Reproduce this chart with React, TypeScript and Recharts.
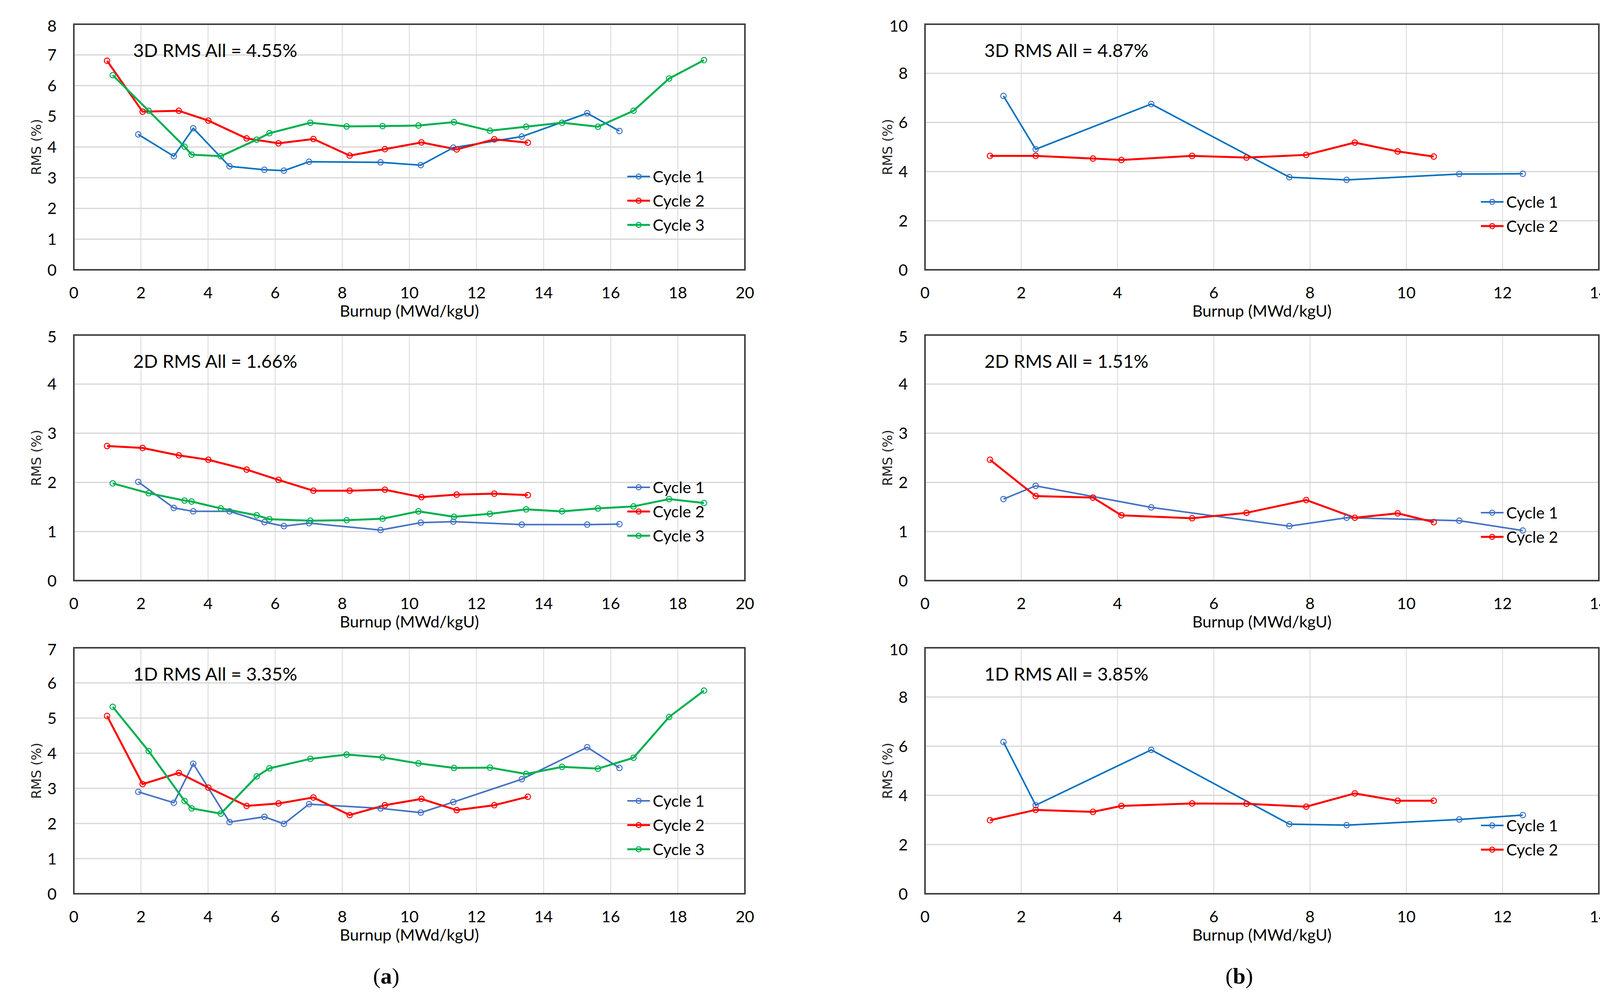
import React from "react";
import {
  LineChart,
  Line,
  XAxis,
  YAxis,
  CartesianGrid,
  ReferenceArea,
} from "recharts";

// burnup positions (MWd/kgU)
const burnupA1 = [1.92, 2.98, 3.56, 4.64, 5.68, 6.26, 7.01, 9.14, 10.34, 11.31, 13.35, 15.3, 16.26];
const burnupA2 = [0.99, 2.05, 3.13, 4.01, 5.15, 6.1, 7.14, 8.22, 9.27, 10.36, 11.41, 12.53, 13.53];
const burnupA3 = [1.16, 2.23, 3.3, 3.51, 4.38, 5.45, 5.83, 7.05, 8.13, 9.2, 10.27, 11.33, 12.4, 13.48, 14.55, 15.62, 16.68, 17.74, 18.78];
const burnupB1 = [1.63, 2.3, 4.7, 7.57, 8.76, 11.1, 12.42];
const burnupB2 = [1.35, 2.3, 3.49, 4.08, 5.55, 6.68, 7.92, 8.93, 9.82, 10.57];

// RMS (%) values, (a) plant
const rms3dA1 = [4.41, 3.7, 4.61, 3.37, 3.26, 3.23, 3.52, 3.5, 3.41, 3.98, 4.34, 5.1, 4.52];
const rms3dA2 = [6.81, 5.15, 5.18, 4.86, 4.28, 4.12, 4.26, 3.72, 3.93, 4.15, 3.92, 4.25, 4.14];
const rms3dA3 = [6.34, 5.18, 4.01, 3.75, 3.7, 4.24, 4.45, 4.79, 4.67, 4.68, 4.7, 4.81, 4.53, 4.66, 4.79, 4.66, 5.18, 6.23, 6.83];
const rms2dA1 = [2.01, 1.48, 1.41, 1.41, 1.19, 1.11, 1.17, 1.03, 1.18, 1.2, 1.14, 1.14, 1.15];
const rms2dA2 = [2.74, 2.7, 2.55, 2.46, 2.26, 2.05, 1.83, 1.83, 1.85, 1.7, 1.75, 1.77, 1.74];
const rms2dA3 = [1.98, 1.78, 1.63, 1.61, 1.47, 1.33, 1.25, 1.22, 1.23, 1.26, 1.41, 1.3, 1.36, 1.45, 1.41, 1.47, 1.51, 1.66, 1.58];
const rms1dA1 = [2.9, 2.59, 3.7, 2.04, 2.19, 1.99, 2.55, 2.43, 2.31, 2.61, 3.26, 4.17, 3.58];
const rms1dA2 = [5.06, 3.12, 3.44, 3.02, 2.5, 2.57, 2.74, 2.24, 2.52, 2.7, 2.38, 2.52, 2.76];
const rms1dA3 = [5.32, 4.06, 2.64, 2.43, 2.28, 3.34, 3.57, 3.84, 3.96, 3.88, 3.71, 3.58, 3.59, 3.41, 3.61, 3.56, 3.87, 5.03, 5.78];

// RMS (%) values, (b) plant
const rms3dB1 = [7.08, 4.91, 6.75, 3.77, 3.66, 3.9, 3.91];
const rms3dB2 = [4.64, 4.64, 4.53, 4.47, 4.64, 4.57, 4.68, 5.18, 4.82, 4.61];
const rms2dB1 = [1.66, 1.93, 1.49, 1.11, 1.28, 1.22, 1.02];
const rms2dB2 = [2.46, 1.72, 1.69, 1.33, 1.27, 1.38, 1.64, 1.28, 1.37, 1.19];
const rms1dB1 = [6.17, 3.6, 5.85, 2.83, 2.79, 3.02, 3.2];
const rms1dB2 = [2.99, 3.41, 3.33, 3.57, 3.67, 3.66, 3.54, 4.08, 3.78, 3.78];

const xTicksA = [0, 2, 4, 6, 8, 10, 12, 14, 16, 18, 20];
const xTicksB = [0, 2, 4, 6, 8, 10, 12, 14];
const yTicks8 = [0, 1, 2, 3, 4, 5, 6, 7, 8];
const yTicks7 = [0, 1, 2, 3, 4, 5, 6, 7];
const yTicks5 = [0, 1, 2, 3, 4, 5];
const yTicks10 = [0, 2, 4, 6, 8, 10];

const FONT = "Lato, 'Liberation Sans', sans-serif";
const BLUE_DARK = "#0070C0";
const BLUE = "#4472C4";
const RED = "#FF0000";
const GREEN = "#00B050";

interface Series {
  name: string;
  x: number[];
  y: number[];
  color: string;
  marker: string;
  width: number;
}

function toPoints(x: number[], y: number[]) {
  return x.map((v, i) => ({ x: v, y: y[i] }));
}

const AXIS_W = 190; // room left of the plot for ticks + title
const AXIS_H = 140; // room under the plot
const PAD_TOP = 20;
const PAD_RIGHT = 44;

function LegendBox({ series }: { series: Series[] }) {
  return (
    <div style={{ fontFamily: FONT, fontSize: 41, color: "#000", lineHeight: "44px" }}>
      {series.map((s) => (
        <div key={s.name} style={{ display: "flex", alignItems: "center", height: 62 }}>
          <svg width={58} height={20} style={{ marginRight: 7 }}>
            <line x1={0} y1={10} x2={58} y2={10} stroke={s.color} strokeWidth={s.width} />
            <circle cx={29} cy={10} r={6.5} fill="none" stroke={s.marker} strokeWidth={2.5} />
          </svg>
          <span>{s.name}</span>
        </div>
      ))}
    </div>
  );
}

interface PanelProps {
  left: number;
  top: number;
  right: number;
  bottom: number;
  xMax: number;
  xTicks: number[];
  yMax: number;
  yTicks: number[];
  note: string;
  series: Series[];
  legendDx: number;
  legendDy: number;
}

function Panel({ left, top, right, bottom, xMax, xTicks, yMax, yTicks, note, series, legendDx, legendDy }: PanelProps) {
  const plotW = right - left;
  const plotH = bottom - top;
  const width = plotW + AXIS_W + PAD_RIGHT;
  const height = plotH + PAD_TOP + AXIS_H;
  const tickStyle = { fontSize: 41, fill: "#000", fontFamily: FONT };
  return (
    <div style={{ position: "absolute", left: left - AXIS_W, top: top - PAD_TOP, width, height }}>
      <LineChart
        width={width}
        height={height}
        margin={{ top: PAD_TOP, right: PAD_RIGHT, left: AXIS_W - 150, bottom: 0 }}
      >
        <CartesianGrid horizontal={false} stroke="#dedede" strokeWidth={2.5} />
        <CartesianGrid vertical={false} stroke="#d6d6d6" strokeWidth={3} />
        <XAxis
          type="number"
          dataKey="x"
          domain={[0, xMax]}
          ticks={xTicks}
          height={AXIS_H}
          axisLine={false}
          tickLine={false}
          tickSize={0}
          tickMargin={44}
          tick={tickStyle}
          label={{
            value: "Burnup (MWd/kgU)",
            position: "insideBottom",
            offset: 20,
            style: { fontSize: 41, fill: "#000", fontFamily: FONT },
          }}
        />
        <YAxis
          type="number"
          domain={[0, yMax]}
          ticks={yTicks}
          width={150}
          axisLine={false}
          tickLine={false}
          tickSize={0}
          tickMargin={44}
          tick={tickStyle}
          label={{
            value: "RMS (%)",
            angle: -90,
            position: "insideLeft",
            offset: 54,
            style: { fontSize: 34, fill: "#222", fontFamily: "'DejaVu Sans', sans-serif", textAnchor: "middle" },
          }}
        />
        <ReferenceArea x1={0} x2={xMax} y1={0} y2={yMax} fill="none" stroke="#404040" strokeWidth={4} />
        {series.map((s) => (
          <Line
            key={s.name}
            name={s.name}
            data={toPoints(s.x, s.y)}
            dataKey="y"
            type="linear"
            stroke={s.color}
            strokeWidth={s.width}
            dot={{ r: 7, fill: "none", stroke: s.marker, strokeWidth: 2.5 }}
            activeDot={false}
            isAnimationActive={false}
          />
        ))}
      </LineChart>
      <div style={{ position: "absolute", left: AXIS_W + legendDx, top: PAD_TOP + legendDy - 31 }}>
        <LegendBox series={series} />
      </div>
      <div
        style={{
          position: "absolute",
          left: AXIS_W + 152,
          top: PAD_TOP + 66 - 24,
          fontFamily: FONT,
          fontSize: 47,
          lineHeight: "48px",
          color: "#000",
          whiteSpace: "nowrap",
        }}
      >
        {note}
      </div>
    </div>
  );
}

const LA = 189;
const RA = 1907;
const LB = 2368;
const RB = 4093;
const rowTop = [62, 858, 1659];
const rowBottom = [691, 1487, 2289];

function seriesA(y1: number[], y2: number[], y3: number[], blue: string): Series[] {
  return [
    { name: "Cycle 1", x: burnupA1, y: y1, color: blue, marker: BLUE, width: 4 },
    { name: "Cycle 2", x: burnupA2, y: y2, color: RED, marker: RED, width: 5 },
    { name: "Cycle 3", x: burnupA3, y: y3, color: GREEN, marker: GREEN, width: 5 },
  ];
}

function seriesB(y1: number[], y2: number[], blue: string): Series[] {
  return [
    { name: "Cycle 1", x: burnupB1, y: y1, color: blue, marker: BLUE, width: 4 },
    { name: "Cycle 2", x: burnupB2, y: y2, color: RED, marker: RED, width: 5 },
  ];
}

export default function App() {
  const capStyle: React.CSSProperties = {
    position: "absolute",
    top: 2466,
    fontFamily: "'Liberation Serif', serif",
    fontSize: 58,
    color: "#000",
  };
  return (
    <div
      style={{
        position: "absolute",
        left: 0,
        top: 0,
        width: 4137,
        height: 2579,
        background: "#fff",
        overflow: "hidden",
      }}
    >
      <Panel left={LA} right={RA} top={rowTop[0]} bottom={rowBottom[0]} xMax={20} xTicks={xTicksA} yMax={8} yTicks={yTicks8}
        note="3D RMS All = 4.55%" series={seriesA(rms3dA1, rms3dA2, rms3dA3, BLUE_DARK)} legendDx={1417} legendDy={390} />
      <Panel left={LB} right={RB} top={rowTop[0]} bottom={rowBottom[0]} xMax={14} xTicks={xTicksB} yMax={10} yTicks={yTicks10}
        note="3D RMS All = 4.87%" series={seriesB(rms3dB1, rms3dB2, BLUE_DARK)} legendDx={1423} legendDy={455} />
      <Panel left={LA} right={RA} top={rowTop[1]} bottom={rowBottom[1]} xMax={20} xTicks={xTicksA} yMax={5} yTicks={yTicks5}
        note="2D RMS All = 1.66%" series={seriesA(rms2dA1, rms2dA2, rms2dA3, BLUE)} legendDx={1417} legendDy={390} />
      <Panel left={LB} right={RB} top={rowTop[1]} bottom={rowBottom[1]} xMax={14} xTicks={xTicksB} yMax={5} yTicks={yTicks5}
        note="2D RMS All = 1.51%" series={seriesB(rms2dB1, rms2dB2, BLUE)} legendDx={1423} legendDy={455} />
      <Panel left={LA} right={RA} top={rowTop[2]} bottom={rowBottom[2]} xMax={20} xTicks={xTicksA} yMax={7} yTicks={yTicks7}
        note="1D RMS All = 3.35%" series={seriesA(rms1dA1, rms1dA2, rms1dA3, BLUE)} legendDx={1417} legendDy={392} />
      <Panel left={LB} right={RB} top={rowTop[2]} bottom={rowBottom[2]} xMax={14} xTicks={xTicksB} yMax={10} yTicks={yTicks10}
        note="1D RMS All = 3.85%" series={seriesB(rms1dB1, rms1dB2, BLUE_DARK)} legendDx={1423} legendDy={455} />
      <div style={{ ...capStyle, left: 955 }}>
        (<b>a</b>)
      </div>
      <div style={{ ...capStyle, left: 3137 }}>
        (<b>b</b>)
      </div>
    </div>
  );
}
